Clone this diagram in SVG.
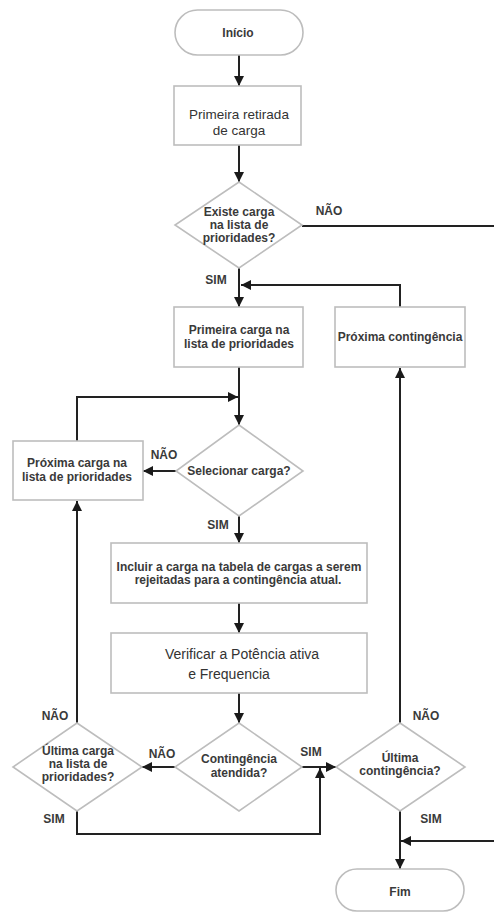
<svg xmlns="http://www.w3.org/2000/svg" width="494" height="913" viewBox="0 0 494 913">
  <style>
    .shape { fill: #ffffff; stroke: #bdbdbd; stroke-width: 1.6; }
    .conn { fill: none; stroke: #222222; stroke-width: 2; }
    .t { font-family: "Liberation Sans", Arial, sans-serif; font-size: 12px; font-weight: bold; fill: #3a3a3a; text-anchor: middle; }
    .r { font-family: "Liberation Sans", Arial, sans-serif; font-weight: normal; fill: #333333; text-anchor: middle; }
  </style>
  <defs>
    <marker id="arrow" viewBox="0 0 10 10" refX="10" refY="5" markerWidth="10" markerHeight="10" markerUnits="userSpaceOnUse" orient="auto">
      <path d="M0,0 L10,5 L0,10 z" fill="#1a1a1a"/>
    </marker>
  </defs>

  <rect width="494" height="913" fill="#ffffff"/>

  <!-- connectors -->
  <g id="connectors" class="conn" marker-end="url(#arrow)">
    <path d="M239,55 V86"/>
    <path d="M239,145 V182"/>
    <path d="M302,226 H494" marker-end="none"/>
    <path d="M239,268 V307"/>
    <path d="M400,307 V285 H241"/>
    <path d="M239,367 V425"/>
    <path d="M77,441 V397 H238"/>
    <path d="M176,471 H143"/>
    <path d="M239,516 V543"/>
    <path d="M239,603 V633"/>
    <path d="M239,693 V723"/>
    <path d="M175,767 H142"/>
    <path d="M77,723 V501"/>
    <path d="M77,811 V834 H320 V768"/>
    <path d="M302,767 H336"/>
    <path d="M400,723 V368"/>
    <path d="M400,811 V869"/>
    <path d="M494,841 H401"/>
  </g>

  <!-- edge labels -->
  <g id="labels">
    <text class="t" x="329" y="215">NÃO</text>
    <text class="t" x="216" y="284">SIM</text>
    <text class="t" x="164" y="459">NÃO</text>
    <text class="t" x="218" y="529">SIM</text>
    <text class="t" x="55" y="720">NÃO</text>
    <text class="t" x="162" y="758">NÃO</text>
    <text class="t" x="311" y="756">SIM</text>
    <text class="t" x="54" y="823">SIM</text>
    <text class="t" x="426" y="720">NÃO</text>
    <text class="t" x="431" y="823">SIM</text>
  </g>

  <!-- nodes -->
  <g id="inicio">
    <rect class="shape" x="175" y="10" width="128" height="45" rx="22.5"/>
    <text class="t" x="238" y="37">Início</text>
  </g>

  <g id="primeira-retirada">
    <rect class="shape" x="174" y="86" width="127" height="59"/>
    <text class="r" font-size="13.5" x="239" y="119">Primeira retirada</text>
    <text class="r" font-size="13.5" x="239" y="135">de carga</text>
  </g>

  <g id="existe-carga">
    <polygon class="shape" points="239,182 302,225 239,268 175,225"/>
    <text class="t" font-size="11.5" x="239" y="216">Existe carga</text>
    <text class="t" font-size="11.5" x="239" y="229">na lista de</text>
    <text class="t" font-size="11.5" x="239" y="242">prioridades?</text>
  </g>

  <g id="primeira-carga">
    <rect class="shape" x="174" y="307" width="129" height="60"/>
    <text class="t" x="239" y="334">Primeira carga na</text>
    <text class="t" x="239" y="348">lista de prioridades</text>
  </g>

  <g id="proxima-contingencia">
    <rect class="shape" x="335" y="307" width="130" height="60"/>
    <text class="t" x="400" y="341">Próxima contingência</text>
  </g>

  <g id="selecionar-carga">
    <polygon class="shape" points="239,425 303,471 239,516 176,471"/>
    <text class="t" x="239" y="475">Selecionar carga?</text>
  </g>

  <g id="proxima-carga">
    <rect class="shape" x="13" y="441" width="130" height="59"/>
    <text class="t" x="77" y="467">Próxima carga na</text>
    <text class="t" x="77" y="481">lista de prioridades</text>
  </g>

  <g id="incluir-carga">
    <rect class="shape" x="111" y="543" width="256" height="60"/>
    <text class="t" x="239" y="571">Incluir a carga na tabela de cargas a serem</text>
    <text class="t" x="238" y="584">rejeitadas para a contingência atual.</text>
  </g>

  <g id="verificar">
    <rect class="shape" x="111" y="633" width="256" height="60"/>
    <text class="r" font-size="14" x="242" y="659">Verificar a Potência ativa</text>
    <text class="r" font-size="14" x="229" y="679">e Frequencia</text>
  </g>

  <g id="contingencia-atendida">
    <polygon class="shape" points="239,723 302,767 239,811 175,767"/>
    <text class="t" x="239" y="763">Contingência</text>
    <text class="t" x="239" y="777">atendida?</text>
  </g>

  <g id="ultima-carga">
    <polygon class="shape" points="77,723 142,767 77,811 13,767"/>
    <text class="t" x="78" y="755">Última carga</text>
    <text class="t" x="78" y="768">na lista de</text>
    <text class="t" x="78" y="781">prioridades?</text>
  </g>

  <g id="ultima-contingencia">
    <polygon class="shape" points="400,723 465,767 400,811 336,767"/>
    <text class="t" x="400" y="762">Última</text>
    <text class="t" x="400" y="775">contingência?</text>
  </g>

  <g id="fim">
    <rect class="shape" x="336" y="869" width="128" height="42" rx="21"/>
    <text class="t" x="400" y="896">Fim</text>
  </g>
</svg>
